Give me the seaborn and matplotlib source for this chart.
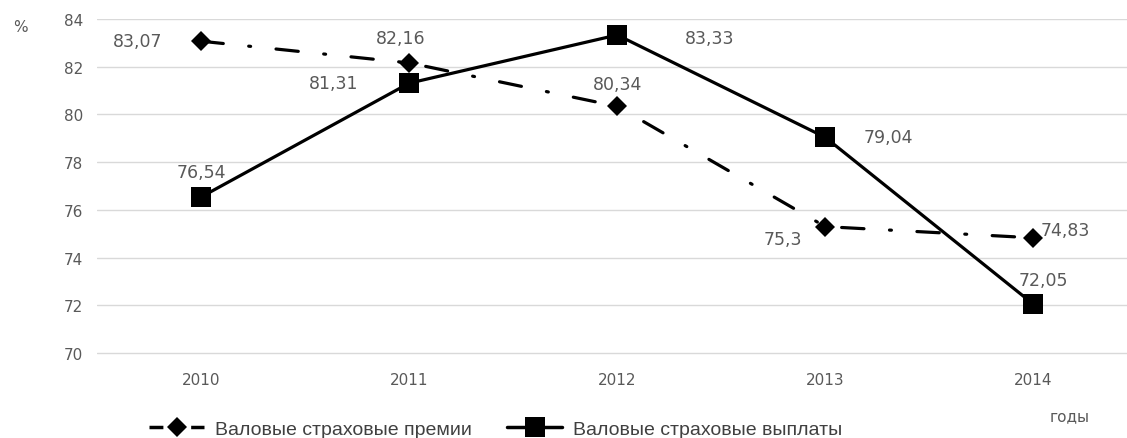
import matplotlib
matplotlib.use("Agg")
import matplotlib.pyplot as plt
import seaborn as sns
import pandas as pd
from matplotlib.lines import Line2D

years = ["2010", "2011", "2012", "2013", "2014"]
premii = [83.07, 82.16, 80.34, 75.3, 74.83]
vyplaty = [76.54, 81.31, 83.33, 79.04, 72.05]
premii_labels = ["83,07", "82,16", "80,34", "75,3", "74,83"]
vyplaty_labels = ["76,54", "81,31", "83,33", "79,04", "72,05"]
name_premii = "Валовые страховые премии"
name_vyplaty = "Валовые страховые выплаты"

sns.set_theme(style="white")
plt.rcParams['font.family'] = ['DejaVu Sans']

fig = plt.figure(figsize=(11.27, 4.39), dpi=100)
ax = fig.add_axes([97/1127, 1 - 356/439, (1127-97)/1127, (356-20)/439])

df = pd.DataFrame({"x": list(range(len(years))) * 2,
                   "val": premii + vyplaty,
                   "series": [name_premii] * 5 + [name_vyplaty] * 5})

sns.lineplot(data=df[df.series == name_premii], x="x", y="val", ax=ax,
             color="black", lw=2.3, marker="D", markersize=10, markeredgewidth=0,
             legend=False)
sns.lineplot(data=df[df.series == name_vyplaty], x="x", y="val", ax=ax,
             color="black", lw=2.3, marker="s", markersize=14, markeredgewidth=0,
             legend=False)
ax.lines[0].set_linestyle((0, (7, 8, 0.6, 8)))
ax.lines[0].set_dash_capstyle("round")

ax.set_xlim(-0.5, 4.45)
ax.set_ylim(69.92, 84)
ax.set_yticks(range(70, 85, 2))
ax.set_xticks(range(len(years)))
ax.set_xticklabels(years)
ax.yaxis.grid(True, color="#d9d9d9", lw=1)
ax.xaxis.grid(False)
for s in ax.spines.values():
    s.set_visible(False)
ax.tick_params(axis="both", length=0, labelsize=11, labelcolor="#595959", pad=10)
ax.tick_params(axis="x", pad=12)
ax.set_xlabel("")
ax.set_ylabel("")

lab_kw = dict(textcoords="offset pixels", fontsize=12.5, color="#595959", va="center", ha="center")
p_off = [(-63, 0), (-8, 25), (0, 22), (-42, -12), (32, 8)]
v_off = [(0, 25), (-75, 0), (92, -3), (63, 0), (10, 24)]
for i in range(len(years)):
    ax.annotate(premii_labels[i], (i, premii[i]), xytext=p_off[i], **lab_kw)
    ax.annotate(vyplaty_labels[i], (i, vyplaty[i]), xytext=v_off[i], **lab_kw)

fig.text(20/1127, 1 - 27/439, "%", fontsize=11, color="#595959", ha="center", va="center")
fig.text(1070/1127, 1 - 417/439, "годы", fontsize=11, color="#595959", ha="center", va="center")

h1 = Line2D([], [], color="black", lw=2.5, marker="D", markersize=10, markeredgewidth=0,
            linestyle=(0, (4, 2)), markevery=[1])
h2 = Line2D([], [], color="black", lw=2.5, marker="s", markersize=14, markeredgewidth=0)
fig.legend([h1, h2], [name_premii, name_vyplaty], loc="center", ncol=2,
           bbox_to_anchor=(496/1127, 1 - 430/439), frameon=False,
           handlelength=2.8, handletextpad=0.6, columnspacing=1.8, labelcolor="#404040",
           prop={"family": "Liberation Sans", "size": 14})

fig.savefig("out.png", dpi=100)
